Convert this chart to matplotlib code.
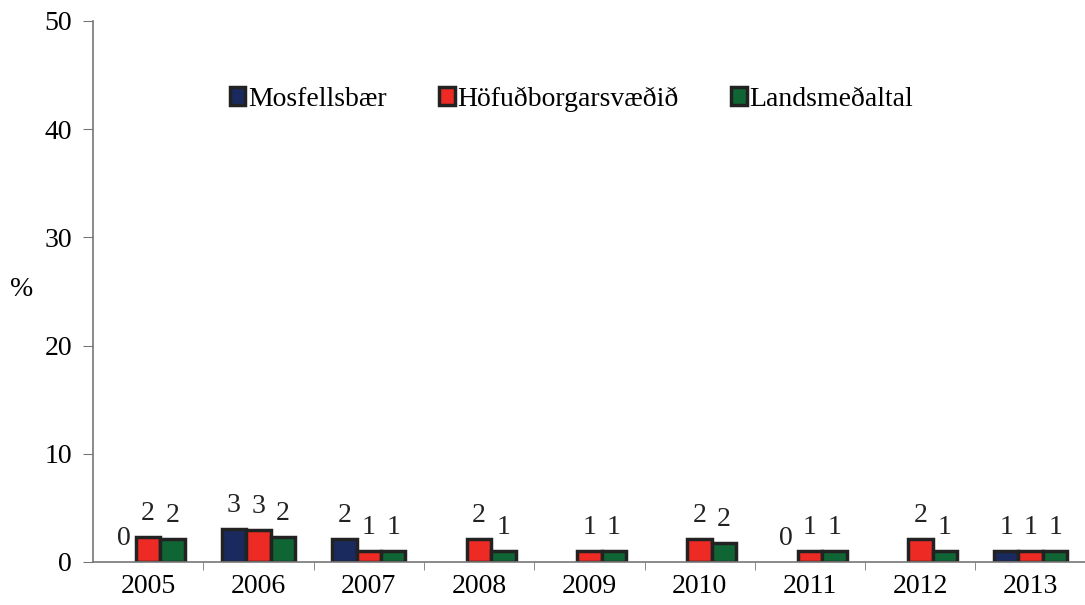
import matplotlib
matplotlib.use("Agg")
import matplotlib.pyplot as plt
import numpy as np

plt.rcParams["font.family"] = ["Liberation Serif", "DejaVu Serif"]

years = ["2005", "2006", "2007", "2008", "2009", "2010", "2011", "2012", "2013"]
series_names = ["Mosfellsbær", "Höfuðborgarsvæðið", "Landsmeðaltal"]
mosfellsbaer = [0.0, 3.05, 2.1, np.nan, np.nan, np.nan, 0.0, np.nan, 1.05]
hofudborg = [2.34, 2.96, 1.05, 2.1, 1.05, 2.1, 1.05, 2.1, 1.05]
landsmedaltal = [2.1, 2.34, 1.05, 1.05, 1.05, 1.73, 1.05, 1.05, 1.05]
colors = ["#1a2a5e", "#ee2a24", "#0f6634"]

fig = plt.figure(figsize=(10.85, 6.05), dpi=100)
ax = fig.add_axes([0.0857, 0.0711, 0.915, 0.8942])

x = np.arange(len(years))
width = 0.222
for i, (vals, name, col) in enumerate(zip([mosfellsbaer, hofudborg, landsmedaltal],
                                          series_names, colors)):
    pos = x + (i - 1) * width
    v = np.array(vals, dtype=float)
    shown = v > 0
    ax.bar(pos[shown], v[shown], width, color=col, edgecolor="#222222",
           linewidth=2.5, label=name)
    for px, val in zip(pos, v):
        if np.isnan(val):
            continue
        ax.annotate(f"{val:.0f}", (px, val), xytext=(0, 8), textcoords="offset points",
                    ha="center", va="bottom", fontsize=20, color="#222222")

ax.set_xlim(-0.5, len(years) - 0.5)
ax.set_ylim(0, 50)
ax.set_yticks([0, 10, 20, 30, 40, 50])
ax.set_xticks(x)
ax.set_xticklabels(years)
ax.set_xticks(np.arange(0.5, len(years) - 1, 1), minor=True)
ax.tick_params(axis="x", which="major", length=0, pad=9, labelsize=20)
ax.tick_params(axis="x", which="minor", length=6, color="#777777", direction="out")
ax.tick_params(axis="y", length=7, color="#777777", labelsize=20, pad=8)

for s in ["top", "right"]:
    ax.spines[s].set_visible(False)
for s in ["left", "bottom"]:
    ax.spines[s].set_color("#777777")
    ax.spines[s].set_linewidth(1.2)

ax.set_ylabel("%", rotation=0, fontsize=20, va="center")
ax.yaxis.set_label_coords(-0.072, 0.503)

ax.legend(loc="upper center", bbox_to_anchor=(0.482, 0.925), ncol=3, frameon=False,
          fontsize=20, handlelength=0.55, handleheight=0.65, handletextpad=0.1,
          columnspacing=1.9)

fig.savefig("out.png", dpi=100)
